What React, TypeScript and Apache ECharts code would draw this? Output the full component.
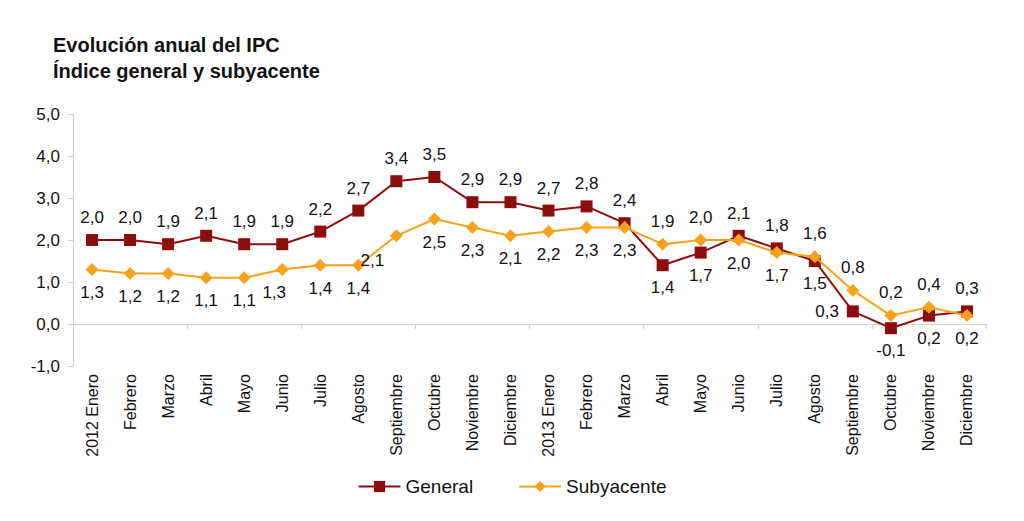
import React, { useEffect, useRef } from "react";
import * as echarts from "echarts";

const categories = [
  "2012 Enero", "Febrero", "Marzo", "Abril", "Mayo", "Junio", "Julio", "Agosto",
  "Septiembre", "Octubre", "Noviembre", "Diciembre",
  "2013 Enero", "Febrero", "Marzo", "Abril", "Mayo", "Junio", "Julio", "Agosto",
  "Septiembre", "Octubre", "Noviembre", "Diciembre",
];

const general = [2.0, 2.0, 1.9, 2.1, 1.9, 1.9, 2.2, 2.7, 3.4, 3.5, 2.9, 2.9, 2.7, 2.8, 2.4, 1.4, 1.7, 2.1, 1.8, 1.5, 0.3, -0.1, 0.2, 0.3];
const subyacente = [1.3, 1.2, 1.2, 1.1, 1.1, 1.3, 1.4, 1.4, 2.1, 2.5, 2.3, 2.1, 2.2, 2.3, 2.3, 1.9, 2.0, 2.0, 1.7, 1.6, 0.8, 0.2, 0.4, 0.2];

const yTicks = { min: -1, max: 5, interval: 1 };

// label placement (styling only)
const generalLabelPos = [
  "top", "top", "top", "top", "top", "top", "top", "top", "top", "top", "top", "top",
  "top", "top", "top", "bottom", "bottom", "top", "top", "bottom", "left", "bottom", "bottom", "top",
];
const subyLabelPos = [
  "bottom", "bottom", "bottom", "bottom", "bottom", "bottom", "bottom", "bottom", "bottom", "bottom", "bottom", "bottom",
  "bottom", "bottom", "bottom", "top", "top", "bottom", "bottom", "top", "top", "top", "top", "bottom",
];
const subyLabelOffset: Record<number, number[]> = { 8: [-24, 2], 5: [-8, 0] };

const fmt = (v: number) => v.toFixed(1).replace(".", ",");

export default function App() {
  const ref = useRef<HTMLDivElement>(null);
  useEffect(() => {
    if (!ref.current) return;
    const chart = echarts.init(ref.current, undefined, { renderer: "svg" });
    const font = "Liberation Sans, Arial, Helvetica, sans-serif";
    const RED = "#8B0D0D";
    const ORANGE = "#F7A21B";
    chart.setOption({
      animation: false,
      textStyle: { fontFamily: font },
      title: {
        text: "Evolución anual del IPC\nÍndice general y subyacente",
        left: 48,
        top: 27,
        textStyle: { fontSize: 20, fontWeight: "bold", color: "#111", lineHeight: 26, fontFamily: font },
      },
      legend: {
        bottom: 20,
        left: "center",
        itemWidth: 42,
        itemHeight: 14,
        itemGap: 45,
        textStyle: { fontSize: 19, color: "#111", fontFamily: font },
        data: ["General", "Subyacente"],
      },
      grid: { left: 73, right: 38, top: 114, bottom: 155, containLabel: false },
      xAxis: [
        {
          type: "category",
          data: categories,
          position: "bottom",
          axisLine: { show: false, onZero: false },
          axisTick: { show: false },
          axisLabel: { rotate: 90, fontSize: 16, color: "#111", margin: 8, interval: 0, fontFamily: font },
        },
        {
          type: "category",
          data: categories,
          position: "bottom",
          axisLine: { show: true, onZero: true, lineStyle: { color: "#d0d0d0", width: 1 } },
          axisTick: { show: true, length: 5, lineStyle: { color: "#d0d0d0" } },
          axisLabel: { show: false },
        },
      ],
      yAxis: {
        type: "value",
        min: yTicks.min,
        max: yTicks.max,
        interval: yTicks.interval,
        axisLine: { show: true, lineStyle: { color: "#d0d0d0" } },
        axisTick: { show: true, length: 5, lineStyle: { color: "#d0d0d0" } },
        splitLine: { show: false },
        axisLabel: { fontSize: 17, color: "#111", margin: 13, formatter: (v: number) => fmt(v), fontFamily: font },
      },
      series: [
        {
          name: "General",
          type: "line",
          xAxisIndex: 0,
          symbol: "rect",
          symbolSize: 12,
          lineStyle: { color: RED, width: 2 },
          itemStyle: { color: RED },
          z: 3,
          data: general.map((v, i) => ({
            value: v,
            label: {
              show: true,
              position: generalLabelPos[i],
              distance: 8,
              formatter: () => fmt(v),
              fontSize: 17,
              color: "#111",
              fontFamily: font,
            },
          })),
        },
        {
          name: "Subyacente",
          type: "line",
          xAxisIndex: 0,
          symbol: "diamond",
          symbolSize: 13,
          lineStyle: { color: ORANGE, width: 2 },
          itemStyle: { color: ORANGE },
          z: 4,
          data: subyacente.map((v, i) => ({
            value: v,
            label: {
              show: true,
              position: subyLabelPos[i],
              distance: 8,
              offset: subyLabelOffset[i] || [0, 0],
              formatter: () => fmt(v),
              fontSize: 17,
              color: "#111",
              fontFamily: font,
            },
          })),
        },
      ],
    });
    return () => chart.dispose();
  }, []);
  return (
    <div
      ref={ref}
      style={{ position: "fixed", left: 0, top: 0, width: 1024, height: 521, background: "#fff" }}
    />
  );
}
